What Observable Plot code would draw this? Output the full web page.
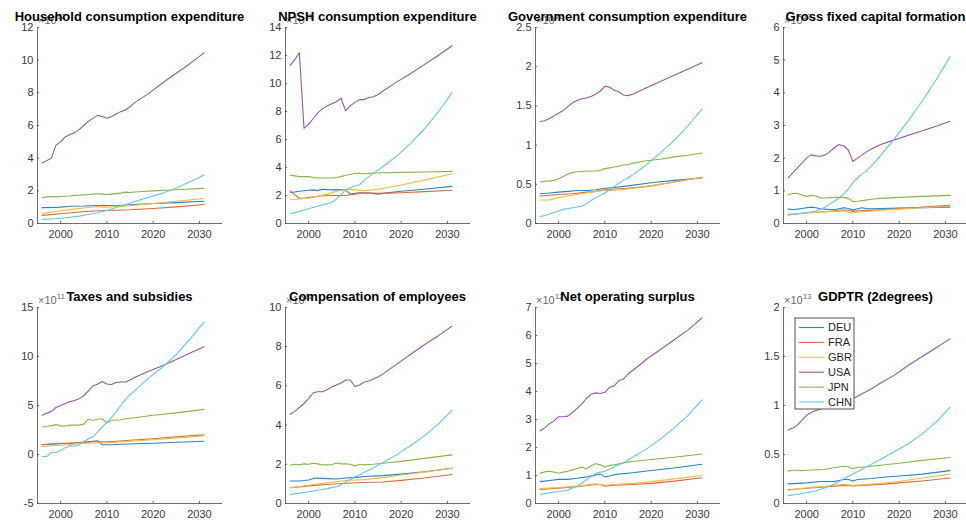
<!DOCTYPE html>
<html>
<head>
<meta charset="utf-8">
<script src="https://cdn.jsdelivr.net/npm/d3@7"></script>
<script src="https://cdn.jsdelivr.net/npm/@observablehq/plot@0.6"></script>
<style>
  html, body { margin: 0; padding: 0; background: #fff; overflow: hidden; }
  #fig { position: relative; width: 966px; height: 524px; overflow: hidden; background: #fff;
         font-family: "Liberation Sans", Arial, Helvetica, sans-serif; }
  #fig .panel { position: absolute; }
  #fig svg.overlay { position: absolute; left: 0; top: 0; pointer-events: none; }
</style>
</head>
<body>
<div id="fig"></div>
<script>
// Countries, in plotting order, and their line colours
const countries = ["DEU", "FRA", "GBR", "USA", "JPN", "CHN"];
const palette = ["#2a84c6", "#dd6a38", "#f0bc45", "#9658a6", "#86b84b", "#66c6f0"];

const panelTitles = [
  "Household consumption expenditure", "NPSH consumption expenditure",
  "Government consumption expenditure", "Gross fixed capital formation",
  "Taxes and subsidies", "Compensation of employees",
  "Net operating surplus", "GDPTR (2degrees)"
];
// power-of-ten multiplier shown above each y axis
const exponents = [12, 11, 12, 12, 11, 12, 12, 13];
const yRanges = [[0, 12], [0, 14], [0, 2.5], [0, 6], [-5, 15], [0, 10], [0, 7], [0, 2]];
const yTickLists = [
  [0, 2, 4, 6, 8, 10, 12], [0, 2, 4, 6, 8, 10, 12, 14], [0, 0.5, 1, 1.5, 2, 2.5],
  [0, 1, 2, 3, 4, 5, 6], [-5, 0, 5, 10, 15], [0, 2, 4, 6, 8, 10], [0, 1, 2, 3, 4, 5, 6, 7],
  [0, 0.5, 1, 1.5, 2]
];
const xRange = [1995, 2035];
const xTickList = [2000, 2010, 2020, 2030];

// [year, value] in units of 10^exponent
const household = {
  DEU: [[1996,0.97],[1998,0.98],[2000,1.0],[2002,1.06],[2005,1.07],[2008,1.1],[2010,1.1],[2013,1.12],[2016,1.16],[2020,1.22],[2025,1.28],[2031,1.36]],
  FRA: [[1996,0.5],[2000,0.6],[2004,0.7],[2008,0.78],[2010,0.8],[2015,0.84],[2020,0.92],[2025,1.02],[2031,1.16]],
  GBR: [[1996,0.62],[1999,0.75],[2002,0.85],[2005,0.95],[2008,1.05],[2009,1.0],[2010,1.0],[2013,1.05],[2016,1.12],[2020,1.22],[2025,1.36],[2031,1.53]],
  USA: [[1996,3.7],[1997,3.85],[1998,4.0],[1999,4.8],[2000,5.0],[2001,5.3],[2002,5.45],[2003,5.55],[2004,5.75],[2005,6.0],[2006,6.25],[2007,6.45],[2008,6.62],[2009,6.55],[2010,6.45],[2011,6.55],[2012,6.7],[2013,6.85],[2014,6.95],[2015,7.15],[2016,7.4],[2019,7.95],[2022,8.6],[2025,9.2],[2028,9.8],[2031,10.45]],
  JPN: [[1996,1.58],[1997,1.63],[1998,1.65],[1999,1.63],[2000,1.65],[2001,1.67],[2002,1.68],[2003,1.72],[2004,1.73],[2005,1.75],[2006,1.78],[2007,1.8],[2008,1.82],[2009,1.8],[2010,1.77],[2011,1.8],[2012,1.83],[2013,1.86],[2014,1.92],[2015,1.9],[2016,1.93],[2020,2.0],[2025,2.07],[2031,2.15]],
  CHN: [[1996,0.25],[1998,0.28],[2000,0.32],[2002,0.38],[2004,0.45],[2006,0.55],[2008,0.66],[2010,0.8],[2012,0.98],[2014,1.15],[2016,1.35],[2019,1.6],[2022,1.85],[2025,2.17],[2028,2.55],[2031,2.97]]
};

const npsh = {
  DEU: [[1996,2.2],[1998,2.3],[2000,2.38],[2001,2.4],[2002,2.35],[2003,2.45],[2005,2.4],[2007,2.42],[2008,2.4],[2009,2.1],[2010,2.15],[2011,2.2],[2013,2.18],[2015,2.1],[2016,2.15],[2020,2.3],[2025,2.45],[2031,2.65]],
  FRA: [[1996,2.35],[1997,2.05],[1998,1.8],[1999,1.8],[2000,1.85],[2002,1.95],[2004,2.0],[2006,2.0],[2008,2.0],[2010,2.1],[2012,2.2],[2014,2.18],[2016,2.15],[2020,2.2],[2025,2.28],[2031,2.38]],
  GBR: [[1996,1.7],[1998,1.75],[2000,1.8],[2002,1.95],[2004,2.1],[2006,2.3],[2008,2.45],[2010,2.4],[2012,2.35],[2015,2.45],[2020,2.75],[2025,3.1],[2031,3.55]],
  USA: [[1996,11.3],[1997,11.7],[1998,12.2],[1999,6.8],[2000,7.1],[2001,7.5],[2002,7.9],[2003,8.2],[2004,8.4],[2005,8.55],[2006,8.7],[2007,8.95],[2008,8.05],[2009,8.4],[2010,8.65],[2011,8.85],[2012,8.85],[2013,9.0],[2014,9.05],[2015,9.2],[2016,9.45],[2019,10.1],[2022,10.7],[2025,11.35],[2028,12.0],[2031,12.7]],
  JPN: [[1996,3.45],[1997,3.4],[1998,3.35],[1999,3.35],[2000,3.35],[2001,3.28],[2002,3.25],[2004,3.25],[2005,3.25],[2006,3.28],[2007,3.35],[2008,3.45],[2009,3.5],[2010,3.57],[2011,3.58],[2012,3.55],[2014,3.6],[2016,3.62],[2020,3.65],[2025,3.68],[2031,3.72]],
  CHN: [[1996,0.7],[1998,0.85],[2000,1.05],[2002,1.25],[2004,1.4],[2005,1.5],[2006,1.75],[2007,2.05],[2008,2.4],[2009,2.55],[2010,2.7],[2011,2.75],[2012,3.1],[2013,3.35],[2014,3.6],[2015,3.8],[2016,4.05],[2019,4.8],[2022,5.7],[2025,6.75],[2028,7.95],[2031,9.35]]
};

const government = {
  DEU: [[1996,0.38],[1998,0.39],[2000,0.4],[2002,0.41],[2004,0.42],[2006,0.42],[2008,0.43],[2010,0.45],[2012,0.46],[2015,0.48],[2020,0.52],[2025,0.55],[2031,0.58]],
  FRA: [[1996,0.35],[1998,0.36],[2000,0.37],[2003,0.38],[2006,0.4],[2008,0.41],[2010,0.43],[2012,0.44],[2015,0.45],[2020,0.48],[2025,0.53],[2031,0.59]],
  GBR: [[1996,0.3],[1998,0.3],[2000,0.33],[2002,0.35],[2005,0.38],[2008,0.41],[2010,0.42],[2012,0.42],[2015,0.44],[2020,0.48],[2025,0.53],[2031,0.59]],
  USA: [[1996,1.3],[1997,1.31],[1998,1.34],[1999,1.37],[2000,1.41],[2001,1.44],[2002,1.49],[2003,1.54],[2004,1.57],[2005,1.59],[2006,1.6],[2007,1.62],[2008,1.65],[2009,1.69],[2010,1.75],[2011,1.74],[2012,1.7],[2013,1.68],[2014,1.64],[2015,1.63],[2016,1.65],[2019,1.73],[2022,1.81],[2025,1.89],[2028,1.97],[2031,2.05]],
  JPN: [[1996,0.53],[1997,0.54],[1998,0.54],[1999,0.55],[2000,0.57],[2001,0.6],[2002,0.63],[2003,0.65],[2004,0.66],[2005,0.66],[2006,0.67],[2008,0.67],[2009,0.68],[2010,0.7],[2011,0.71],[2012,0.72],[2013,0.73],[2014,0.75],[2015,0.75],[2016,0.77],[2019,0.8],[2022,0.82],[2025,0.85],[2028,0.87],[2031,0.9]],
  CHN: [[1996,0.09],[1997,0.1],[1998,0.12],[1999,0.14],[2000,0.16],[2001,0.18],[2002,0.19],[2003,0.2],[2004,0.21],[2005,0.22],[2006,0.25],[2007,0.29],[2008,0.33],[2009,0.36],[2010,0.39],[2011,0.43],[2012,0.47],[2013,0.51],[2014,0.55],[2015,0.58],[2016,0.62],[2019,0.75],[2022,0.9],[2025,1.06],[2028,1.25],[2031,1.46]]
};

const capital = {
  DEU: [[1996,0.44],[1997,0.43],[1998,0.44],[1999,0.46],[2000,0.48],[2001,0.5],[2002,0.48],[2003,0.45],[2004,0.44],[2005,0.43],[2006,0.42],[2007,0.45],[2008,0.48],[2009,0.46],[2010,0.41],[2011,0.45],[2012,0.48],[2013,0.45],[2014,0.45],[2016,0.46],[2020,0.47],[2025,0.48],[2031,0.5]],
  FRA: [[1996,0.26],[1998,0.29],[2000,0.33],[2002,0.34],[2004,0.36],[2006,0.39],[2008,0.42],[2009,0.4],[2010,0.37],[2012,0.4],[2014,0.41],[2016,0.42],[2020,0.45],[2025,0.5],[2031,0.56]],
  GBR: [[1996,0.27],[1998,0.3],[2000,0.33],[2002,0.34],[2004,0.36],[2006,0.37],[2008,0.38],[2009,0.34],[2010,0.32],[2012,0.36],[2014,0.38],[2016,0.41],[2020,0.44],[2025,0.48],[2031,0.53]],
  USA: [[1996,1.4],[1997,1.55],[1998,1.7],[1999,1.85],[2000,2.0],[2001,2.1],[2002,2.07],[2003,2.06],[2004,2.1],[2005,2.2],[2006,2.32],[2007,2.42],[2008,2.38],[2009,2.25],[2010,1.9],[2011,2.0],[2012,2.1],[2013,2.2],[2014,2.28],[2015,2.35],[2016,2.42],[2019,2.56],[2022,2.7],[2025,2.84],[2028,2.98],[2031,3.13]],
  JPN: [[1996,0.88],[1997,0.92],[1998,0.92],[1999,0.87],[2000,0.83],[2001,0.86],[2002,0.84],[2003,0.78],[2004,0.78],[2006,0.8],[2008,0.8],[2009,0.77],[2010,0.67],[2011,0.68],[2012,0.7],[2014,0.74],[2016,0.77],[2020,0.8],[2025,0.83],[2031,0.86]],
  CHN: [[1996,0.28],[1998,0.3],[2000,0.33],[2002,0.38],[2004,0.5],[2005,0.6],[2006,0.68],[2007,0.78],[2008,0.9],[2009,1.05],[2010,1.25],[2011,1.4],[2012,1.52],[2013,1.62],[2014,1.77],[2015,1.92],[2016,2.08],[2019,2.6],[2022,3.15],[2025,3.75],[2028,4.4],[2031,5.1]]
};

const taxes = {
  DEU: [[1996,1.0],[1998,1.05],[2000,1.1],[2002,1.15],[2004,1.2],[2006,1.3],[2007,1.35],[2008,1.4],[2009,1.0],[2010,1.0],[2011,1.0],[2013,1.05],[2016,1.1],[2020,1.15],[2025,1.25],[2031,1.35]],
  FRA: [[1996,1.0],[1998,1.1],[2000,1.15],[2002,1.15],[2005,1.25],[2008,1.3],[2010,1.3],[2012,1.35],[2015,1.45],[2020,1.6],[2025,1.8],[2031,2.0]],
  GBR: [[1996,0.8],[1998,0.9],[2000,0.95],[2003,1.05],[2006,1.15],[2008,1.2],[2010,1.2],[2012,1.25],[2015,1.35],[2020,1.5],[2025,1.7],[2031,1.9]],
  USA: [[1996,4.0],[1997,4.2],[1998,4.4],[1999,4.8],[2000,5.0],[2001,5.2],[2002,5.4],[2003,5.5],[2004,5.7],[2005,6.0],[2006,6.5],[2007,7.0],[2008,7.2],[2009,7.45],[2010,7.2],[2011,7.15],[2012,7.35],[2013,7.4],[2014,7.4],[2015,7.6],[2016,7.85],[2019,8.5],[2022,9.05],[2025,9.7],[2028,10.35],[2031,11.0]],
  JPN: [[1996,2.8],[1997,2.85],[1998,2.95],[1999,3.05],[2000,2.9],[2001,2.9],[2002,3.0],[2003,3.0],[2004,3.0],[2005,3.1],[2006,3.6],[2007,3.5],[2008,3.6],[2009,3.65],[2010,3.2],[2011,3.5],[2012,3.5],[2013,3.55],[2014,3.65],[2016,3.75],[2020,4.0],[2025,4.25],[2031,4.6]],
  CHN: [[1996,-0.2],[1997,-0.2],[1998,0.2],[1999,0.2],[2000,0.4],[2001,0.7],[2002,0.9],[2003,0.85],[2004,1.0],[2005,1.3],[2006,1.6],[2007,1.8],[2008,2.3],[2009,2.8],[2010,3.3],[2011,3.8],[2012,4.3],[2013,5.0],[2014,5.6],[2015,6.1],[2016,6.5],[2019,7.8],[2022,8.9],[2025,10.2],[2028,11.8],[2031,13.5]]
};

const compensation = {
  DEU: [[1996,1.15],[1998,1.15],[1999,1.17],[2000,1.2],[2001,1.28],[2002,1.3],[2004,1.27],[2006,1.25],[2008,1.3],[2010,1.32],[2012,1.38],[2016,1.42],[2020,1.5],[2025,1.62],[2031,1.8]],
  FRA: [[1996,0.8],[1998,0.85],[2000,0.9],[2004,0.97],[2008,1.03],[2012,1.07],[2016,1.1],[2020,1.18],[2025,1.3],[2031,1.48]],
  GBR: [[1996,0.8],[1998,0.87],[2000,0.93],[2004,1.05],[2008,1.17],[2010,1.2],[2012,1.22],[2016,1.32],[2020,1.45],[2025,1.6],[2031,1.8]],
  USA: [[1996,4.55],[1997,4.7],[1998,4.9],[1999,5.1],[2000,5.35],[2001,5.65],[2002,5.7],[2003,5.7],[2004,5.8],[2005,5.95],[2006,6.05],[2007,6.15],[2008,6.3],[2009,6.3],[2010,5.97],[2011,6.05],[2012,6.2],[2013,6.25],[2014,6.35],[2015,6.45],[2016,6.6],[2019,7.1],[2022,7.6],[2025,8.1],[2028,8.55],[2031,9.05]],
  JPN: [[1996,1.95],[1997,2.0],[1998,1.97],[1999,2.02],[2000,2.0],[2001,2.05],[2002,2.02],[2003,1.97],[2004,1.97],[2005,1.98],[2006,2.07],[2007,2.02],[2008,2.02],[2009,2.0],[2010,1.92],[2011,2.0],[2012,1.97],[2014,2.0],[2016,2.05],[2020,2.15],[2025,2.3],[2031,2.48]],
  CHN: [[1996,0.45],[1998,0.53],[2000,0.6],[2002,0.68],[2004,0.76],[2006,0.86],[2007,0.95],[2008,1.1],[2009,1.22],[2010,1.35],[2012,1.58],[2014,1.82],[2016,2.08],[2019,2.48],[2022,2.95],[2025,3.45],[2028,4.05],[2031,4.75]]
};

const surplus = {
  DEU: [[1996,0.78],[1998,0.82],[2000,0.86],[2002,0.86],[2004,0.9],[2006,0.95],[2008,1.02],[2009,1.05],[2010,0.95],[2011,0.98],[2012,1.03],[2016,1.1],[2020,1.18],[2025,1.27],[2031,1.4]],
  FRA: [[1996,0.5],[1998,0.53],[2000,0.55],[2004,0.6],[2008,0.68],[2009,0.68],[2010,0.62],[2012,0.65],[2016,0.68],[2020,0.72],[2025,0.8],[2031,0.92]],
  GBR: [[1996,0.53],[1998,0.55],[2000,0.57],[2004,0.62],[2008,0.7],[2010,0.65],[2012,0.68],[2016,0.72],[2020,0.78],[2025,0.88],[2031,1.0]],
  USA: [[1996,2.6],[1997,2.7],[1998,2.85],[1999,2.95],[2000,3.1],[2001,3.1],[2002,3.12],[2003,3.25],[2004,3.4],[2005,3.55],[2006,3.75],[2007,3.9],[2008,3.95],[2009,3.93],[2010,3.97],[2011,4.15],[2012,4.2],[2013,4.38],[2014,4.45],[2015,4.62],[2016,4.75],[2019,5.15],[2022,5.5],[2025,5.85],[2028,6.2],[2031,6.63]],
  JPN: [[1996,1.08],[1997,1.13],[1998,1.15],[1999,1.12],[2000,1.08],[2001,1.12],[2002,1.15],[2003,1.2],[2004,1.25],[2005,1.3],[2006,1.23],[2007,1.35],[2008,1.42],[2009,1.38],[2010,1.3],[2011,1.36],[2012,1.38],[2014,1.45],[2016,1.5],[2020,1.57],[2025,1.65],[2031,1.77]],
  CHN: [[1996,0.33],[1998,0.38],[2000,0.42],[2002,0.48],[2003,0.55],[2004,0.62],[2005,0.72],[2006,0.85],[2007,0.95],[2008,1.07],[2009,1.12],[2010,1.15],[2011,1.22],[2012,1.3],[2013,1.38],[2014,1.45],[2015,1.55],[2016,1.65],[2019,1.95],[2022,2.3],[2025,2.7],[2028,3.15],[2031,3.7]]
};

const gdptr = {
  DEU: [[1996,0.2],[2000,0.21],[2003,0.225],[2006,0.225],[2008,0.245],[2009,0.245],[2010,0.23],[2011,0.245],[2014,0.255],[2016,0.265],[2020,0.28],[2025,0.3],[2031,0.335]],
  FRA: [[1996,0.14],[2000,0.155],[2004,0.17],[2008,0.185],[2010,0.178],[2012,0.185],[2016,0.195],[2020,0.21],[2025,0.23],[2031,0.26]],
  GBR: [[1996,0.135],[2000,0.16],[2004,0.175],[2008,0.195],[2010,0.185],[2012,0.19],[2016,0.205],[2020,0.225],[2025,0.26],[2031,0.3]],
  USA: [[1996,0.75],[1997,0.77],[1998,0.8],[1999,0.85],[2000,0.9],[2001,0.93],[2002,0.95],[2004,0.98],[2006,1.02],[2008,1.05],[2009,1.05],[2010,1.07],[2012,1.12],[2014,1.17],[2016,1.23],[2019,1.31],[2022,1.41],[2025,1.5],[2028,1.59],[2031,1.68]],
  JPN: [[1996,0.33],[1997,0.34],[1998,0.34],[1999,0.335],[2000,0.34],[2002,0.345],[2004,0.35],[2006,0.365],[2008,0.38],[2009,0.375],[2010,0.355],[2011,0.37],[2012,0.37],[2014,0.38],[2016,0.39],[2020,0.41],[2025,0.44],[2031,0.47]],
  CHN: [[1996,0.08],[1998,0.095],[2000,0.11],[2002,0.13],[2004,0.16],[2006,0.2],[2008,0.25],[2010,0.3],[2012,0.35],[2014,0.4],[2016,0.45],[2019,0.53],[2022,0.61],[2025,0.71],[2028,0.83],[2031,0.98]]
};

const panelData = [household, npsh, government, capital, taxes, compensation, surplus, gdptr];

// ---- layout of the 2x4 grid (plot-area origin of each axes) ----
const axesLeft = [37, 285, 535, 783];
const axesTop = [27, 307];
const plotW = 185, plotH = 196;
const margin = {top: 27, right: 6, bottom: 26, left: 40};
const axisColor = "#4a4a4a";
const textColor = "#3a3a3a";
const fontFamily = "'Liberation Sans', Arial, Helvetica, sans-serif";

const fig = document.getElementById("fig");

panelData.forEach((series, i) => {
  const col = i % 4, row = Math.floor(i / 4);
  const yDom = yRanges[i];
  const rows = countries.flatMap(c => series[c].map(([year, value]) => ({country: c, year, value})));
  const ySpan = yDom[1] - yDom[0], xSpan = xRange[1] - xRange[0];

  const chart = Plot.plot({
    width: margin.left + plotW + margin.right,
    height: margin.top + plotH + margin.bottom,
    marginTop: margin.top, marginRight: margin.right,
    marginBottom: margin.bottom, marginLeft: margin.left,
    style: {background: "transparent", fontSize: "11px", fontFamily, color: textColor, overflow: "visible"},
    x: {domain: xRange, ticks: xTickList, tickSize: 0, tickPadding: 7, tickFormat: d => String(d), label: null},
    y: {domain: yDom, ticks: yTickLists[i], tickSize: 0, tickPadding: 4, tickFormat: d => String(d), label: null},
    color: {domain: countries, range: palette},
    marks: [
      // inward tick marks
      Plot.ruleX(xTickList, {x: d => d, y1: yDom[0], y2: yDom[0] + ySpan * 0.011, stroke: axisColor, strokeWidth: 0.8}),
      Plot.ruleY(yTickLists[i], {y: d => d, x1: xRange[0], x2: xRange[0] + xSpan * 0.011, stroke: axisColor, strokeWidth: 0.8}),
      Plot.line(rows, {x: "year", y: "value", z: "country", stroke: "country", strokeWidth: 1.1}),
      // axis lines (left and bottom only)
      Plot.ruleY([yDom[0]], {stroke: axisColor, strokeWidth: 0.8}),
      Plot.ruleX([xRange[0]], {stroke: axisColor, strokeWidth: 0.8})
    ]
  });
  chart.classList.add("panel");
  chart.style.left = (axesLeft[col] - margin.left) + "px";
  chart.style.top = (axesTop[row] - margin.top) + "px";
  fig.appendChild(chart);
});

// ---- exponent labels, titles and legend ----
const overlay = d3.select(fig).append("svg")
  .attr("class", "overlay").attr("width", 966).attr("height", 524)
  .style("font-family", fontFamily);

panelTitles.forEach((title, i) => {
  const col = i % 4, row = Math.floor(i / 4);
  const left = axesLeft[col], top = axesTop[row];
  const ex = overlay.append("text")
    .attr("x", left + 1).attr("y", top - 3.5)
    .attr("fill", "#6a6a6a").attr("font-size", 11);
  ex.append("tspan").text("\u00d710");
  ex.append("tspan").attr("font-size", 8).attr("dy", -5).text(exponents[i]);
  overlay.append("text")
    .attr("x", left + plotW / 2).attr("y", top - 6.5)
    .attr("text-anchor", "middle")
    .attr("font-size", 13).attr("font-weight", "bold").attr("fill", "#000")
    .text(title);
});

// legend inside the last panel
const lg = overlay.append("g").attr("transform", "translate(795,318)");
lg.append("rect").attr("width", 59).attr("height", 91)
  .attr("fill", "#fff").attr("stroke", "#262626").attr("stroke-width", 0.8);
countries.forEach((c, k) => {
  const y = 9.5 + k * 14.9;
  lg.append("line").attr("x1", 4).attr("x2", 29).attr("y1", y).attr("y2", y)
    .attr("stroke", palette[k]).attr("stroke-width", 1.1);
  lg.append("text").attr("x", 33).attr("y", y).attr("dy", "0.35em")
    .attr("font-size", 11).attr("fill", "#262626").text(c);
});
</script>
</body>
</html>
